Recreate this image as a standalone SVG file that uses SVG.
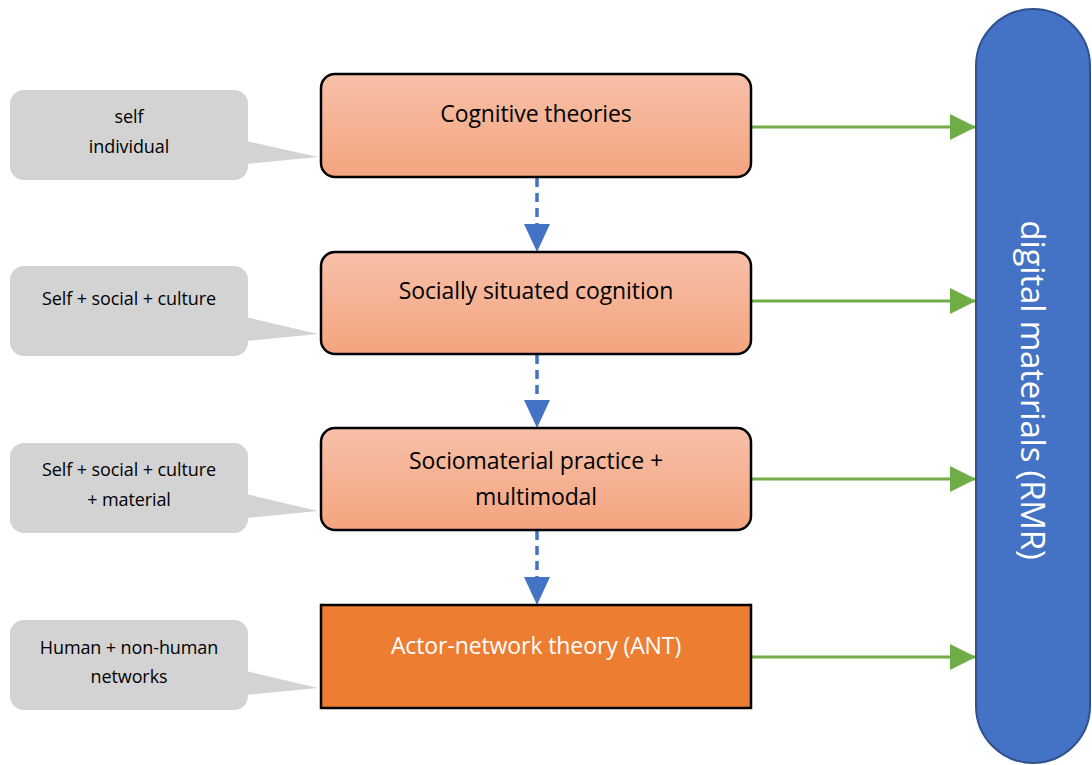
<svg xmlns="http://www.w3.org/2000/svg" width="1092" height="765" viewBox="0 0 1092 765">
<defs>
<linearGradient id="g" x1="0" y1="0" x2="0" y2="1">
<stop offset="0" stop-color="#F7C0A8"/>
<stop offset="1" stop-color="#F4A47F"/>
</linearGradient>
<marker id="ga" markerWidth="26" markerHeight="26" viewBox="0 0 26 26" refX="26" refY="13" orient="auto" markerUnits="userSpaceOnUse">
<path d="M0,0 L26,13 L0,26 Z" fill="#70AD47"/>
</marker>
<marker id="ba" markerWidth="28" markerHeight="28" viewBox="0 0 28 28" refX="28" refY="14" orient="auto" markerUnits="userSpaceOnUse">
<path d="M0,1 L28,14 L0,27 Z" fill="#4472C4"/>
</marker>
</defs>
<style>
.box{fill:url(#g);stroke:#000;stroke-width:2.5}
.t{font-family:"Open Sans","Liberation Sans",sans-serif;font-size:23px;fill:#000;text-anchor:middle;letter-spacing:-0.1px}
.c{fill:#D3D3D3}
.ct{font-family:"Open Sans","Liberation Sans",sans-serif;font-size:18px;fill:#000;text-anchor:middle;letter-spacing:-0.1px}
.green{stroke:#70AD47;stroke-width:3;fill:none;marker-end:url(#ga)}
.blue{stroke:#4472C4;stroke-width:3.5;fill:none;stroke-dasharray:9,6;marker-end:url(#ba)}
</style>
<g id="connectors">
<line class="green" x1="751" y1="127" x2="976" y2="127"/>
<line class="green" x1="751" y1="301" x2="976" y2="301"/>
<line class="green" x1="751" y1="479" x2="976" y2="479"/>
<line class="green" x1="751" y1="657" x2="976" y2="657"/>
<line class="blue" x1="537" y1="178" x2="537" y2="252"/>
<line class="blue" x1="537" y1="355" x2="537" y2="428"/>
<line class="blue" x1="537" y1="531" x2="537" y2="605"/>
</g>
<g id="rmr">
<rect x="976" y="9" width="114" height="754" rx="57" ry="57" fill="#4472C4" stroke="#2F528F" stroke-width="2"/>
<text transform="translate(1033,390) rotate(90)" font-family="'Open Sans','Liberation Sans',sans-serif" font-size="33" fill="#fff" text-anchor="middle" dominant-baseline="central" letter-spacing="-0.2">digital materials (RMR)</text>
</g>
<g id="n1">
<rect class="box" x="321" y="74" width="430" height="103" rx="14"/>
<text class="t" x="536" y="122">Cognitive theories</text>
</g>
<g id="n2">
<rect class="box" x="321" y="252" width="430" height="102" rx="14"/>
<text class="t" x="536" y="299">Socially situated cognition</text>
</g>
<g id="n3">
<rect class="box" x="321" y="428" width="430" height="102" rx="14"/>
<text class="t" x="536" y="469">Sociomaterial practice +</text>
<text class="t" x="536" y="505">multimodal</text>
</g>
<g id="n4">
<rect x="321" y="605" width="430" height="103" fill="#ED7D31" stroke="#000" stroke-width="2.5"/>
<text class="t" x="536" y="654" style="fill:#fff">Actor-network theory (ANT)</text>
</g>
<g id="c1">
<rect class="c" x="10" y="90" width="238" height="90" rx="14"/>
<path class="c" d="M246,141 L318,157 L246,164 Z"/>
<text class="ct" x="129" y="123">self</text>
<text class="ct" x="129" y="153">individual</text>
</g>
<g id="c2">
<rect class="c" x="10" y="266" width="238" height="90" rx="14"/>
<path class="c" d="M246,317 L318,334 L246,341 Z"/>
<text class="ct" x="129" y="305">Self + social + culture</text>
</g>
<g id="c3">
<rect class="c" x="10" y="443" width="238" height="90" rx="14"/>
<path class="c" d="M246,494 L318,511 L246,518 Z"/>
<text class="ct" x="129" y="476">Self + social + culture</text>
<text class="ct" x="129" y="506">+ material</text>
</g>
<g id="c4">
<rect class="c" x="10" y="620" width="238" height="90" rx="14"/>
<path class="c" d="M246,671 L318,688 L246,695 Z"/>
<text class="ct" x="129" y="654">Human + non-human</text>
<text class="ct" x="129" y="683">networks</text>
</g>
</svg>
